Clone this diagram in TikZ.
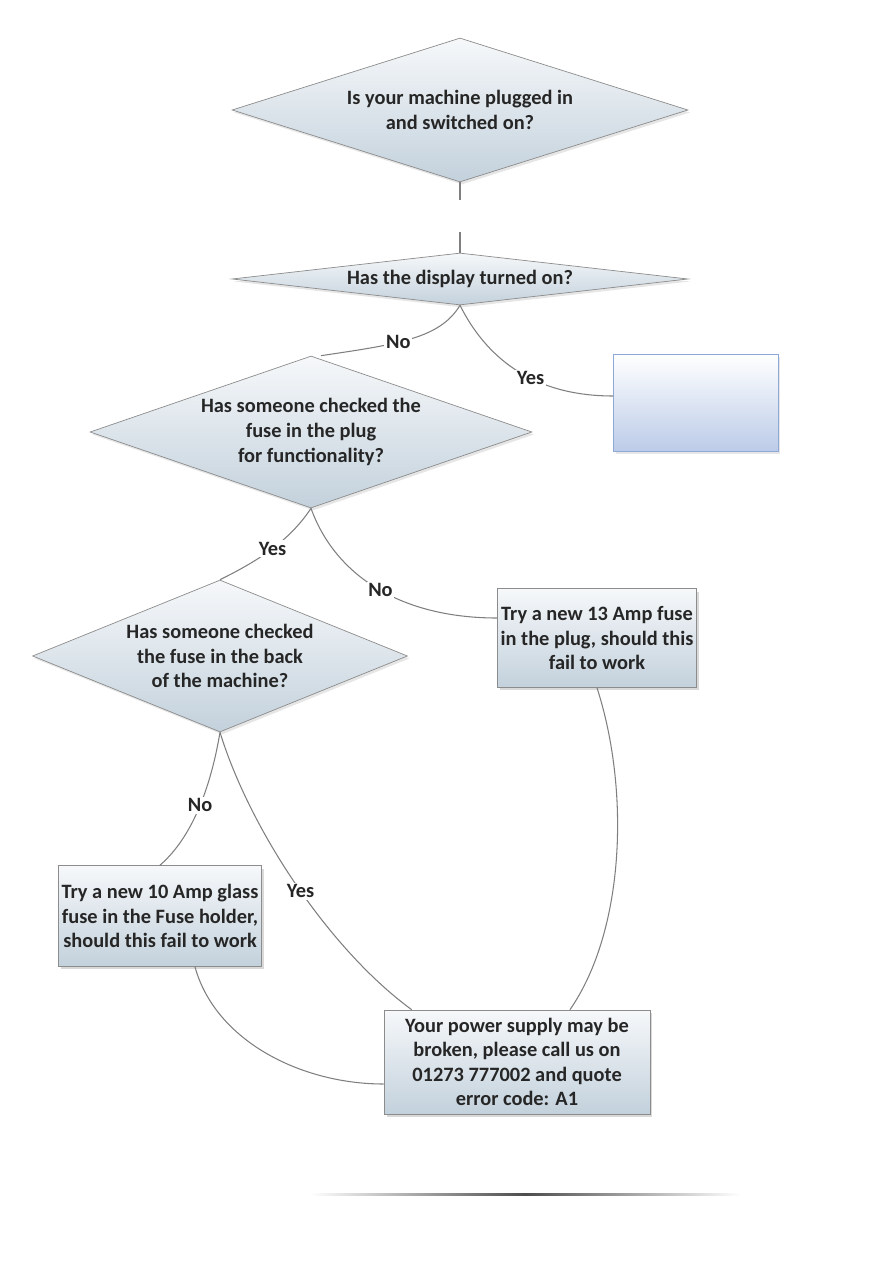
\documentclass[tikz,border=0pt]{standalone}
\usepackage{fontspec}
\setmainfont{Carlito}
\usepackage{tikz}
\usetikzlibrary{shapes.geometric, shadows, positioning}

\definecolor{linegray}{HTML}{7F7F7F}
\definecolor{edgegray}{HTML}{8C8C8C}
\definecolor{filltop}{HTML}{F6F8FA}
\definecolor{fillbot}{HTML}{C3D1DC}
\definecolor{textdark}{HTML}{262626}
\definecolor{blueedge}{HTML}{8FA9D6}
\definecolor{bluebot}{HTML}{BCCBE8}

\begin{document}
\begin{tikzpicture}[
    x=0.02cm, y=-0.02cm,
    every node/.style = {font=\fontsize{11.6}{14}\selectfont\bfseries, text=textdark},
    decision/.style = {diamond, draw=edgegray, top color=filltop, bottom color=fillbot, inner sep=0pt, align=center,
        drop shadow={opacity=0.2, shadow xshift=0.04cm, shadow yshift=-0.05cm}},
    stepbox/.style = {rectangle, draw=edgegray, top color=filltop, bottom color=fillbot, inner sep=0pt, align=center,
        drop shadow={opacity=0.3, shadow xshift=0.05cm, shadow yshift=-0.06cm}},
    emptybox/.style = {rectangle, draw=blueedge, top color=white, bottom color=bluebot,
        drop shadow={opacity=0.2, shadow xshift=0.04cm, shadow yshift=-0.05cm}},
    link/.style = {draw=linegray, line width=0.6pt},
    answer/.style = {fill=white, inner sep=1pt}
]
\useasboundingbox (0,0) rectangle (893,1263);

\node [decision, minimum width=9.12cm, minimum height=2.88cm, shape aspect=3.17] (q1) at (460,110) {Is your machine plugged in\\and switched on?};
\node [decision, minimum width=9.12cm, minimum height=1.04cm, shape aspect=8.77] (q2) at (460,279) {Has the display turned on?};
\node [decision, minimum width=8.84cm, minimum height=3.04cm, shape aspect=2.9] (q3) at (311,432) {Has someone checked the\\fuse in the plug\\for functionality?};
\node [decision, minimum width=7.5cm, minimum height=3.04cm, shape aspect=2.47] (q4) at (220,656) {Has someone checked\\the fuse in the back\\of the machine?};

\node [emptybox, minimum width=3.3cm, minimum height=1.94cm] (b0) at (696,403) {};
\node [stepbox, minimum width=3.98cm, minimum height=1.98cm] (b1) at (597,638) {Try a new 13 Amp fuse\\in the plug, should this\\fail to work};
\node [stepbox, minimum width=4.06cm, minimum height=2.02cm] (b2) at (160,916) {Try a new 10 Amp glass\\fuse in the Fuse holder,\\should this fail to work};
\node [stepbox, minimum width=5.32cm, minimum height=2.08cm] (b4) at (517,1062) {Your power supply may be\\broken, please call us on\\01273 777002 and quote\\error code: A1};

\coordinate (gap1) at (460,200);
\coordinate (gap2) at (460,232);

\draw[link] (q1.south) -- (gap1);
\draw[link] (gap2) -- (q2.north);

\draw[link] (q2.south) .. controls (440,338) and (400,344) .. ([xshift=0.2cm]q3.north) node[answer, pos=0.6] {No};
\draw[link] (q2.south) .. controls (485,355) and (530,396) .. ([yshift=0.14cm]b0.west) node[answer, pos=0.6] {Yes};

\draw[link] (q3.south) .. controls (290,540) and (260,560) .. (q4.north) node[answer, pos=0.5] {Yes};
\draw[link] (q3.south) .. controls (335,575) and (400,618) .. ([yshift=0.4cm]b1.west) node[answer, pos=0.52] {No};

\draw[link] (q4.south) .. controls (212,780) and (195,835) .. (b2.north) node[answer, pos=0.5] {No};
\draw[link] (q4.south) .. controls (250,830) and (330,950) .. ([xshift=0.56cm]b4.north west) node[answer, pos=0.52] {Yes};

\draw[link] (b1.south) .. controls (630,790) and (625,930) .. ([xshift=1.06cm]b4.north);
\draw[link] ([xshift=0.7cm]b2.south) .. controls (215,1040) and (300,1084) .. ([yshift=-0.44cm]b4.west);

% footer rule
\shade[left color=white, right color=white, middle color=black!70] (310,1193) rectangle (740,1195);

\end{tikzpicture}
\end{document}
